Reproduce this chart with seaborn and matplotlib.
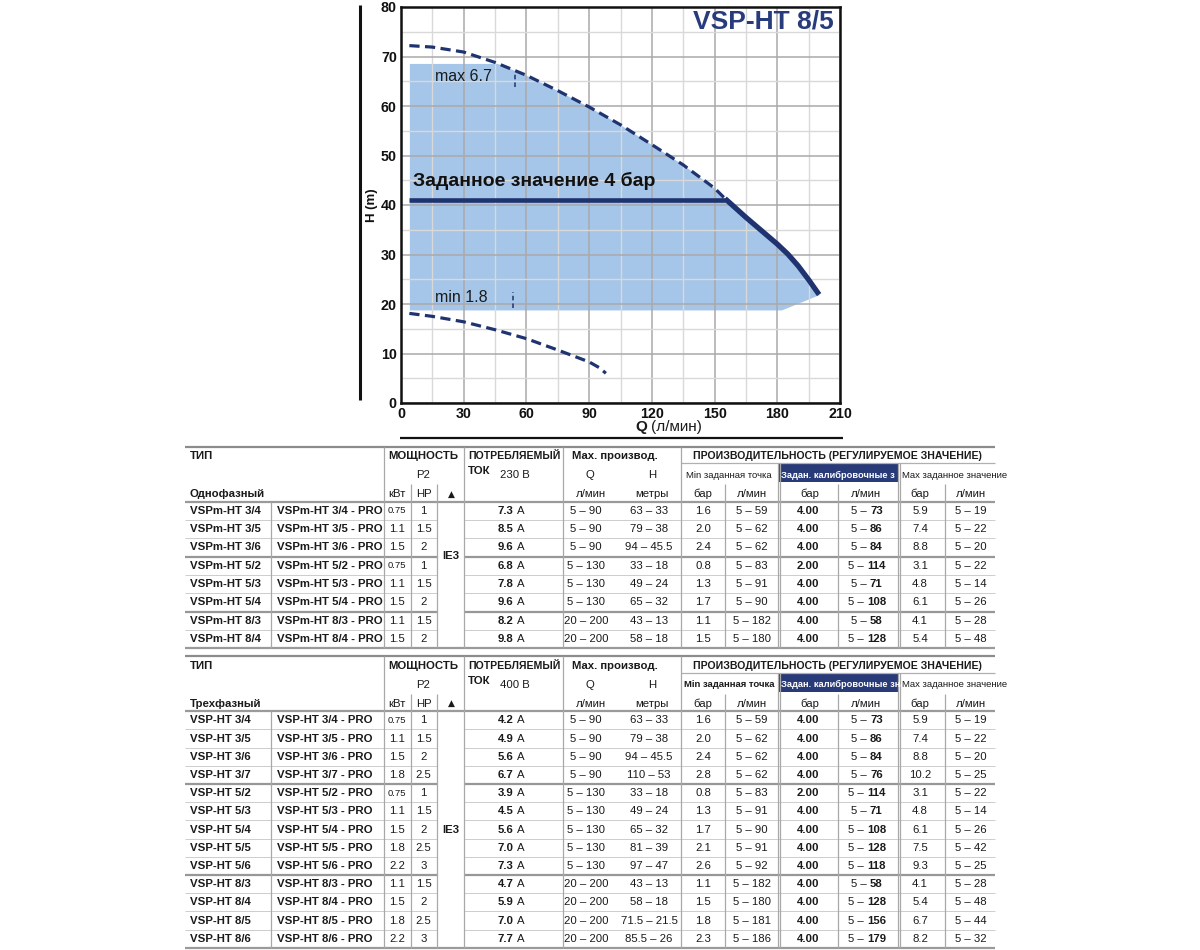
import numpy as np
import pandas as pd
import matplotlib
matplotlib.use("Agg")
import matplotlib.pyplot as plt
import seaborn as sns
from matplotlib.patches import Rectangle

# ---------------- chart data ----------------
max_q = [4, 15, 30, 45, 60, 75, 90, 105, 120, 135, 150, 155]
max_h = [72.2, 71.9, 70.9, 68.8, 66.2, 63.1, 59.8, 56.2, 52.2, 48.1, 43.4, 41.3]
reg_q = [155, 160, 165, 170, 175, 180, 185, 190, 195, 200]
reg_h = [41.3, 39.4, 37.5, 35.7, 33.9, 32.1, 30.1, 27.7, 24.9, 21.9]
min_q = [4, 15, 30, 45, 60, 75, 80, 85, 90, 95, 98]
min_h = [18.1, 17.5, 16.4, 14.8, 13.0, 10.7, 9.9, 9.1, 8.3, 7.1, 6.0]
setpoint_q = [4, 155]
setpoint_h = [41.1, 41.1]
area_top = 68.6
area_bottom = 18.8
area_q_start = 4
area_q_corner = 182
max_mark_q, max_mark_h = [54.5, 54.5], [63.9, 66.9]
min_mark_q, min_mark_h = [53.5, 53.5], [19.1, 22.5]
x_ticks = [0, 30, 60, 90, 120, 150, 180, 210]
y_ticks = [0, 10, 20, 30, 40, 50, 60, 70, 80]

# ---------------- table 1 (single phase) ----------------
t1_models = ["VSPm-HT 3/4", "VSPm-HT 3/5", "VSPm-HT 3/6", "VSPm-HT 5/2",
             "VSPm-HT 5/3", "VSPm-HT 5/4", "VSPm-HT 8/3", "VSPm-HT 8/4"]
t1_kw = ["0.75", "1.1", "1.5", "0.75", "1.1", "1.5", "1.1", "1.5"]
t1_hp = ["1", "1.5", "2", "1", "1.5", "2", "1.5", "2"]
t1_amp = ["7.3", "8.5", "9.6", "6.8", "7.8", "9.6", "8.2", "9.8"]
t1_q = ["5 – 90", "5 – 90", "5 – 90", "5 – 130", "5 – 130", "5 – 130", "20 – 200", "20 – 200"]
t1_h = ["63 – 33", "79 – 38", "94 – 45.5", "33 – 18", "49 – 24", "65 – 32", "43 – 13", "58 – 18"]
t1_min_bar = ["1.6", "2.0", "2.4", "0.8", "1.3", "1.7", "1.1", "1.5"]
t1_min_q = ["5 – 59", "5 – 62", "5 – 62", "5 – 83", "5 – 91", "5 – 90", "5 – 182", "5 – 180"]
t1_set_bar = ["4.00", "4.00", "4.00", "2.00", "4.00", "4.00", "4.00", "4.00"]
t1_set_q = ["73", "86", "84", "114", "71", "108", "58", "128"]
t1_max_bar = ["5.9", "7.4", "8.8", "3.1", "4.8", "6.1", "4.1", "5.4"]
t1_max_q = ["5 – 19", "5 – 22", "5 – 20", "5 – 22", "5 – 14", "5 – 26", "5 – 28", "5 – 48"]
t1_breaks = [3, 6]

# ---------------- table 2 (three phase) ----------------
t2_models = ["VSP-HT 3/4", "VSP-HT 3/5", "VSP-HT 3/6", "VSP-HT 3/7", "VSP-HT 5/2",
             "VSP-HT 5/3", "VSP-HT 5/4", "VSP-HT 5/5", "VSP-HT 5/6", "VSP-HT 8/3",
             "VSP-HT 8/4", "VSP-HT 8/5", "VSP-HT 8/6"]
t2_kw = ["0.75", "1.1", "1.5", "1.8", "0.75", "1.1", "1.5", "1.8", "2.2", "1.1", "1.5", "1.8", "2.2"]
t2_hp = ["1", "1.5", "2", "2.5", "1", "1.5", "2", "2.5", "3", "1.5", "2", "2.5", "3"]
t2_amp = ["4.2", "4.9", "5.6", "6.7", "3.9", "4.5", "5.6", "7.0", "7.3", "4.7", "5.9", "7.0", "7.7"]
t2_q = ["5 – 90"] * 4 + ["5 – 130"] * 5 + ["20 – 200"] * 4
t2_h = ["63 – 33", "79 – 38", "94 – 45.5", "110 – 53", "33 – 18", "49 – 24", "65 – 32",
        "81 – 39", "97 – 47", "43 – 13", "58 – 18", "71.5 – 21.5", "85.5 – 26"]
t2_min_bar = ["1.6", "2.0", "2.4", "2.8", "0.8", "1.3", "1.7", "2.1", "2.6", "1.1", "1.5", "1.8", "2.3"]
t2_min_q = ["5 – 59", "5 – 62", "5 – 62", "5 – 62", "5 – 83", "5 – 91", "5 – 90", "5 – 91",
            "5 – 92", "5 – 182", "5 – 180", "5 – 181", "5 – 186"]
t2_set_bar = ["4.00", "4.00", "4.00", "4.00", "2.00", "4.00", "4.00", "4.00", "4.00",
              "4.00", "4.00", "4.00", "4.00"]
t2_set_q = ["73", "86", "84", "76", "114", "71", "108", "128", "118", "58", "128", "156", "179"]
t2_max_bar = ["5.9", "7.4", "8.8", "10.2", "3.1", "4.8", "6.1", "7.5", "9.3", "4.1", "5.4", "6.7", "8.2"]
t2_max_q = ["5 – 19", "5 – 22", "5 – 20", "5 – 25", "5 – 22", "5 – 14", "5 – 26", "5 – 42",
            "5 – 25", "5 – 28", "5 – 48", "5 – 44", "5 – 32"]
t2_breaks = [4, 9]

# ---------------- style ----------------
sns.set_theme(style="white")
MAIN = ["Liberation Sans", "DejaVu Sans"]
plt.rcParams["font.family"] = MAIN
NAVY = "#1f3370"
TITLE = "#283c7c"
TXT = "#1a1a1a"
FS = 8.2

fig = plt.figure(figsize=(12, 9.5), dpi=100)
tax = fig.add_axes([0, 0, 1, 1])
tax.set_xlim(0, 1200)
tax.set_ylim(950, 0)
tax.axis("off")

ax = fig.add_axes([401 / 1200, 1 - 403 / 950, 439 / 1200, 396 / 950])
ax.set_xlim(0, 210)
ax.set_ylim(0, 80)
ax.set_xticks(x_ticks)
ax.set_yticks(y_ticks)
ax.set_xticks(np.arange(15, 210, 30), minor=True)
ax.set_yticks(np.arange(5, 80, 10), minor=True)
ax.set_axisbelow("line")
ax.grid(which="major", color="#a9a9a9", lw=1.1)
ax.grid(which="minor", color="#d9d9d9", lw=1.0)
ax.tick_params(which="both", length=0)
ax.tick_params(axis="both", labelsize=10.3, pad=3, colors="#111")
for lbl in ax.get_xticklabels() + ax.get_yticklabels():
    lbl.set_fontweight("bold")
for s in ax.spines.values():
    s.set_visible(True)
    s.set_color("#111")
    s.set_linewidth(1.8)

# filled operating area
curve_q = np.array(max_q + reg_q[1:], dtype=float)
curve_h = np.array(max_h + reg_h[1:], dtype=float)
qq = np.linspace(area_q_start, reg_q[-1], 800)
upper = np.minimum(np.interp(qq, curve_q, curve_h), area_top)
lower = np.where(qq <= area_q_corner, area_bottom,
                 area_bottom + (qq - area_q_corner) / (reg_q[-1] - area_q_corner) * (reg_h[-1] - area_bottom))
ax.fill_between(qq, lower, upper, color="#a5c6e8", lw=0, zorder=1)

# curves
sns.lineplot(x=max_q, y=max_h, ax=ax, color=NAVY, linewidth=2.3, sort=False, estimator=None, zorder=3)
ax.lines[-1].set_dashes([3.2, 1.7])
sns.lineplot(x=min_q, y=min_h, ax=ax, color=NAVY, linewidth=2.3, sort=False, estimator=None, zorder=3)
ax.lines[-1].set_dashes([3.2, 1.7])
sns.lineplot(x=reg_q, y=reg_h, ax=ax, color=NAVY, linewidth=3.8, sort=False, estimator=None, zorder=4)
ax.lines[-1].set_solid_capstyle("butt")
ax.lines[-1].set_solid_joinstyle("round")
sns.lineplot(x=setpoint_q, y=setpoint_h, ax=ax, color=NAVY, linewidth=3.3, sort=False, estimator=None, zorder=4)
ax.lines[-1].set_solid_capstyle("butt")
for mq, mh in ((max_mark_q, max_mark_h), (min_mark_q, min_mark_h)):
    sns.lineplot(x=mq, y=mh, ax=ax, color=NAVY, linewidth=1.1, sort=False, estimator=None, zorder=4)
    ax.lines[-1].set_dashes([3.0, 2.0])
ax.set_xlabel("")
ax.set_ylabel("H (m)", fontsize=9.5, fontweight="bold", color="#111", va="center")
ax.yaxis.set_label_coords(-0.066, 0.5)

ax.text(16.3, 65.9, "max 6.7", fontsize=11.5, color=TXT, va="center", zorder=5)
ax.text(16.3, 21.4, "min 1.8", fontsize=11.5, color=TXT, va="center", zorder=5)
ax.text(5.7, 44.8, "Заданное значение 4 бар", fontsize=14, fontweight="bold", color="#111",
        va="center", zorder=5)
ax.text(207, 77.0, "VSP-HT 8/5", fontsize=19, fontweight="bold", color=TITLE, ha="right",
        va="center", zorder=5)

# frame lines outside the chart
tax.plot([360, 360], [5, 400], color="#111", lw=2.2, solid_capstyle="butt")
tax.plot([400, 843], [438, 438], color="#111", lw=1.6, solid_capstyle="butt")

renderer = fig.canvas.get_renderer()


def txt(x, y, s, ha="center", weight="normal", size=FS, color=TXT, **kw):
    return tax.text(x, y, s, ha=ha, va="center", fontsize=size, fontweight=weight,
                    color=color, **kw)


def mixed(x, y, parts, gap=3.0, size=FS, ha="center"):
    objs = [txt(0, y, s, ha="left", weight=w, size=size) for s, w in parts]
    widths = [t.get_window_extent(renderer).width for t in objs]
    total = sum(widths) + gap * (len(objs) - 1)
    x0 = x - total / 2 if ha == "center" else x
    for t, w in zip(objs, widths):
        t.set_x(x0)
        x0 += w + gap


def hline(y, x0, x1, lw, color):
    tax.plot([x0, x1], [y, y], color=color, lw=lw, solid_capstyle="butt")


def vline(x, y0, y1, lw=0.9, color="#a8a8a8"):
    tax.plot([x, x], [y0, y1], color=color, lw=lw, solid_capstyle="butt")


# xlabel (mixed weight)
mixed(669, 427, [("Q", "bold"), ("(л/мин)", "normal")], gap=4, size=11)


def draw_table(top, bottom, phase, volt, models, kw, hp, amp, qr, hr, mnb, mnq,
               stb, stq, mxb, mxq, breaks, ie3_y, min_bold, set_label):
    n = len(models)
    hb = top + 55
    rh = (bottom - hb) / n
    r1, r2, r3 = top + 9.5, top + 28.5, top + 47.5
    r3top = top + 37.5
    prod_line = top + 16.5

    hline(top, 185, 995, 1.6, "#8c8c8c")
    hline(prod_line, 680.5, 995, 0.9, "#b0b0b0")
    hline(hb, 185, 995, 1.6, "#9a9a9a")
    for i in range(1, n):
        y = hb + i * rh
        lw, col = (1.6, "#979797") if i in breaks else (0.7, "#cdcdcd")
        hline(y, 185, 437, lw, col)
        hline(y, 464, 995, lw, col)
    hline(bottom, 185, 995, 1.6, "#9a9a9a")

    vline(271, hb, bottom)
    vline(384, top, bottom)
    vline(410.5, r3top, bottom)
    vline(437, r3top, bottom)
    vline(464, top, bottom)
    vline(563, top, bottom)
    vline(680.5, top, bottom)
    vline(725, r3top, bottom)
    vline(838, r3top, bottom)
    vline(945, r3top, bottom)
    for xx in (777.5, 780, 897.5, 900):
        vline(xx, prod_line, bottom)

    rect = Rectangle((778, prod_line + 1), 120, r3top - prod_line - 3, facecolor="#283a78",
                     edgecolor="none")
    tax.add_patch(rect)

    # header
    txt(190, r1, "ТИП", ha="left", weight="bold")
    txt(388, r1, "МОЩНОСТЬ", ha="left", weight="bold")
    txt(468, r1, "ПОТРЕБЛЯЕМЫЙ", ha="left", weight="bold", size=7.6)
    txt(572, r1, "Max. производ.", ha="left", weight="bold")
    txt(837, r1, "ПРОИЗВОДИТЕЛЬНОСТЬ (РЕГУЛИРУЕМОЕ ЗНАЧЕНИЕ)", weight="bold", size=7.6)
    txt(423.5, r2, "P2")
    txt(468, r2 - 4, "ТОК", ha="left", weight="bold")
    txt(500, r2, volt, ha="left")
    txt(590, r2, "Q")
    txt(652, r2, "H")
    txt(729, r2, "Min заданная точка", size=6.8, weight="bold" if min_bold else "normal")
    t = txt(781, r2, set_label, ha="left", weight="bold", size=6.7, color="white")
    t.set_clip_path(rect)
    txt(902, r2, "Max заданное значение", ha="left", size=6.8)
    txt(190, r3, phase, ha="left", weight="bold")
    for xx, s in ((397, "кВт"), (423.5, "HP"), (591, "л/мин"), (652, "метры"), (703, "бар"),
                  (752, "л/мин"), (810, "бар"), (866, "л/мин"), (920, "бар"), (971, "л/мин")):
        txt(xx, r3, s)
    txt(451, r3, "▲", size=6.5, family=["DejaVu Sans"])

    # data rows
    for i in range(n):
        y = hb + (i + 0.5) * rh
        txt(190, y, models[i], ha="left", weight="bold")
        txt(277, y, models[i] + " - PRO", ha="left", weight="bold")
        txt(397, y, kw[i], size=6.8 if len(kw[i]) > 3 else FS)
        txt(423.5, y, hp[i])
        txt(513.5, y, amp[i], ha="right", weight="bold")
        txt(516.5, y, "A", ha="left")
        txt(586, y, qr[i])
        txt(649, y, hr[i])
        txt(703, y, mnb[i])
        txt(752, y, mnq[i])
        txt(808, y, stb[i], weight="bold")
        mixed(867, y, [("5 –", "normal"), (stq[i], "bold")])
        txt(920, y, mxb[i])
        txt(971, y, mxq[i])
    txt(450.5, ie3_y, "IE3", weight="bold")


draw_table(446.5, 648.3, "Однофазный", "230 В", t1_models, t1_kw, t1_hp, t1_amp, t1_q, t1_h,
           t1_min_bar, t1_min_q, t1_set_bar, t1_set_q, t1_max_bar, t1_max_q, t1_breaks, 556,
           False, "Задан. калибровочные з")
draw_table(656.3, 947.8, "Трехфазный", "400 В", t2_models, t2_kw, t2_hp, t2_amp, t2_q, t2_h,
           t2_min_bar, t2_min_q, t2_set_bar, t2_set_q, t2_max_bar, t2_max_q, t2_breaks, 830,
           True, "Задан. калибровочные зна")

fig.savefig("out.png", dpi=100)
